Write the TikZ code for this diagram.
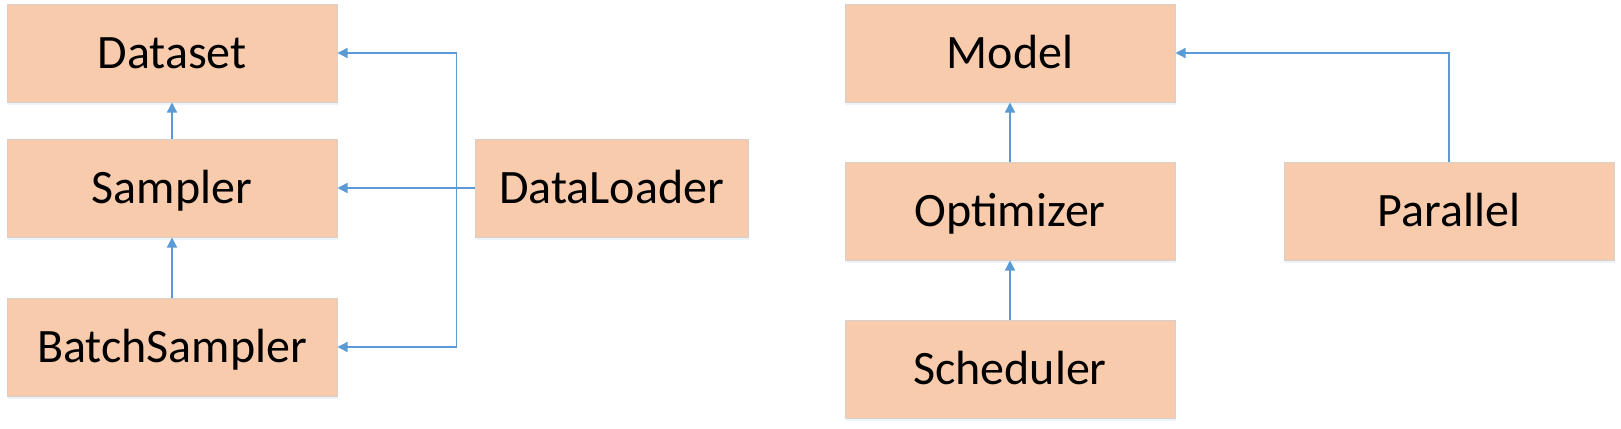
\documentclass[tikz,border=0pt]{standalone}
\usepackage{fontspec}
\setmainfont{Carlito}
\usepackage{tikz}
\usetikzlibrary{positioning,arrows.meta,shadows}

\definecolor{boxfill}{HTML}{F8CBAD}
\definecolor{boxline}{HTML}{D6CFCA}
\definecolor{linkblue}{HTML}{5B9BD5}

\tikzset{
  block/.style={draw=boxline, line width=0.5pt, fill=boxfill,
    minimum width=165pt, minimum height=49pt, inner sep=0pt,
    font=\fontsize{24}{28}\selectfont, text height=15.5pt, text depth=0pt,
    drop shadow={shadow xshift=0.3pt, shadow yshift=-1.5pt, fill=linkblue!60, opacity=0.18}},
  link/.style={draw=linkblue, line width=0.7pt, -{Triangle[length=5pt,width=5pt]}}
}

\begin{document}
\begin{tikzpicture}[x=0.5pt,y=-0.5pt]
  \useasboundingbox (0,0) rectangle (1621,428);
  % data side
  \node[block] (dataset) at (172,53) {Dataset};
  \node[block, below=18pt of dataset] (sampler) {Sampler};
  \node[block, below=30pt of sampler] (batch) {BatchSampler};
  \node[block, minimum width=136.5pt, right=68.5pt of sampler] (loader) {DataLoader};
  % model side
  \node[block, right=253.5pt of dataset] (model) {Model};
  \node[block, below=29.5pt of model] (optim) {Optimizer};
  \node[block, below=29.5pt of optim] (sched) {Scheduler};
  \node[block, right=54pt of optim] (parallel) {Parallel};

  \draw[draw=linkblue, line width=0.7pt] (loader.west) -- ++(-18,0) coordinate (bus);
  \draw[link] (bus) -- (sampler.east);
  \draw[link] (bus) |- (dataset.east);
  \draw[link] (bus) |- (batch.east);
  \draw[link] (sampler) -- (dataset);
  \draw[link] (batch) -- (sampler);

  \draw[link] (optim) -- (model);
  \draw[link] (sched) -- (optim);
  \draw[link] (parallel.north) |- (model.east);
\end{tikzpicture}
\end{document}
